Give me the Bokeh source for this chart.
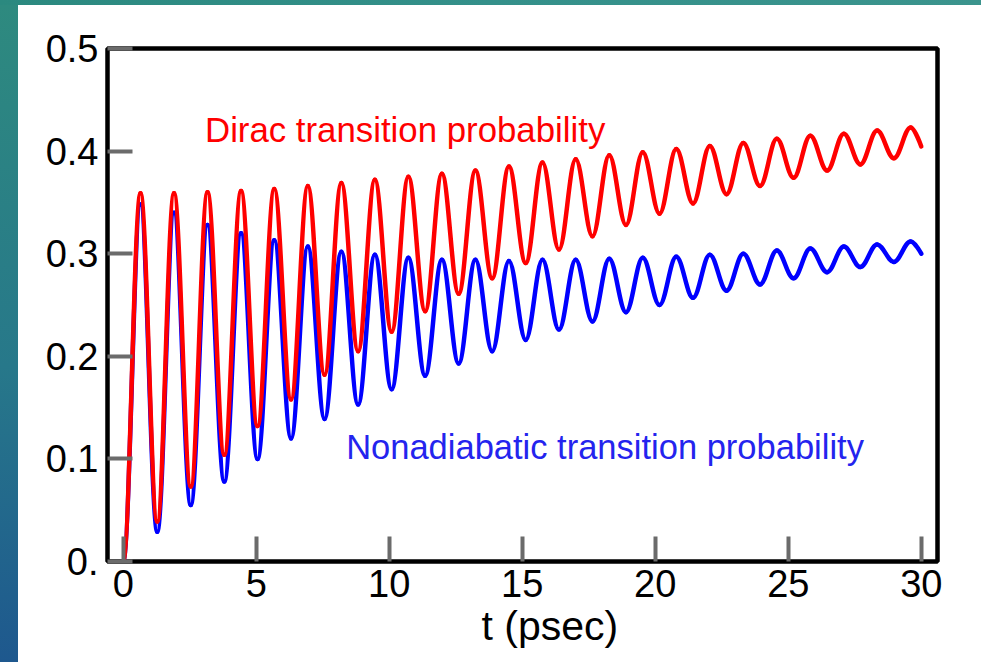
from math import pi
from bokeh.plotting import figure
from bokeh.models import Range1d, FixedTicker, Label, Title, Div
from bokeh.layouts import row, column
from bokeh.embed import file_html
from bokeh.resources import INLINE

# ---- data (t in psec) ----
t_peaks = [0.65, 1.91, 3.17, 4.43, 5.68, 6.94, 8.20, 9.46, 10.72, 11.98, 13.24, 14.50,
           15.76, 17.01, 18.27, 19.53, 20.79, 22.05, 23.31, 24.57, 25.83, 27.09, 28.34, 29.60]
t_troughs = [1.28, 2.54, 3.80, 5.05, 6.31, 7.57, 8.83, 10.09, 11.35, 12.61, 13.87, 15.13,
             16.38, 17.64, 18.90, 20.16, 21.42, 22.68, 23.94, 25.20, 26.46, 27.71, 28.97]
t_start = 0.0
t_end = 30.0

dirac_peaks = [0.359, 0.359, 0.360, 0.361, 0.363, 0.366, 0.369, 0.372, 0.375, 0.378, 0.381, 0.385,
               0.389, 0.392, 0.396, 0.399, 0.402, 0.405, 0.408, 0.412, 0.415, 0.417, 0.420, 0.423]
dirac_troughs = [0.039, 0.073, 0.104, 0.132, 0.158, 0.182, 0.205, 0.224, 0.244, 0.261, 0.276, 0.291,
                 0.304, 0.317, 0.328, 0.339, 0.349, 0.358, 0.366, 0.374, 0.381, 0.387, 0.393]
dirac_start = 0.0
dirac_end = 0.4045

nonadiabatic_peaks = [0.348, 0.340, 0.328, 0.320, 0.313, 0.307, 0.302, 0.299, 0.296, 0.294, 0.294, 0.293,
                      0.294, 0.294, 0.295, 0.296, 0.297, 0.299, 0.300, 0.303, 0.305, 0.307, 0.309, 0.312]
nonadiabatic_troughs = [0.029, 0.055, 0.078, 0.100, 0.120, 0.139, 0.153, 0.168, 0.181, 0.193, 0.205, 0.216,
                        0.226, 0.234, 0.243, 0.250, 0.257, 0.264, 0.270, 0.276, 0.282, 0.287, 0.292]
nonadiabatic_start = 0.0
nonadiabatic_end = 0.300

x_ticks = [0, 5, 10, 15, 20, 25, 30]
y_ticks = [0.0, 0.1, 0.2, 0.3, 0.4, 0.5]
y_tick_labels = ["0.", "0.1", "0.2", "0.3", "0.4", "0.5"]
x_axis_label = "t (psec)"
dirac_label = "Dirac transition probability"
nonadiabatic_label = "Nonadiabatic transition probability"

FONT = "Liberation Sans"


def extrema_sequence(start, peaks, troughs, end):
    ts, vs = [t_start], [start]
    for i in range(len(peaks)):
        ts.append(t_peaks[i]); vs.append(peaks[i])
        if i < len(troughs):
            ts.append(t_troughs[i]); vs.append(troughs[i])
    ts.append(t_end); vs.append(end)
    return ts, vs


def bezier_segments(ts, vs):
    k = 1 - 2 / pi  # smooth, horizontal tangents at the extrema
    x0, x1 = ts[:-1], ts[1:]
    y0, y1 = vs[:-1], vs[1:]
    cx0 = [a + k * (b - a) for a, b in zip(x0, x1)]
    cy0 = list(y0)
    cx1 = [b - k * (b - a) for a, b in zip(x0, x1)]
    cy1 = list(y1)
    cx1[-1] = x1[-1]
    cy1[-1] = y1[-1]
    return dict(x0=x0, y0=y0, x1=x1, y1=y1, cx0=cx0, cy0=cy0, cx1=cx1, cy1=cy1)


p = figure(width=963, height=657, output_backend="svg", toolbar_location=None,
           x_range=Range1d(-0.59, 30.61), y_range=Range1d(0, 0.5),
           min_border_left=89, min_border_right=44, min_border_top=43, min_border_bottom=101)
p.background_fill_color = "white"
p.border_fill_color = "white"
p.outline_line_color = "black"
p.outline_line_width = 4.5
p.xgrid.visible = False
p.ygrid.visible = False

for ax in (p.xaxis[0], p.yaxis[0]):
    ax.axis_line_color = None
    ax.major_tick_in = 25
    ax.major_tick_out = 0
    ax.major_tick_line_color = "#6b6b6b"
    ax.major_tick_line_width = 4
    ax.minor_tick_line_color = None
    ax.major_label_text_font = FONT
    ax.major_label_text_font_size = "38px"
    ax.major_label_text_color = "black"

p.xaxis[0].ticker = FixedTicker(ticks=x_ticks)
p.xaxis[0].major_label_standoff = 8
p.yaxis[0].ticker = FixedTicker(ticks=y_ticks)
p.yaxis[0].major_label_overrides = {v: s for v, s in zip(y_ticks, y_tick_labels)}
p.yaxis[0].major_label_standoff = 9

seg_n = bezier_segments(*extrema_sequence(nonadiabatic_start, nonadiabatic_peaks, nonadiabatic_troughs, nonadiabatic_end))
seg_d = bezier_segments(*extrema_sequence(dirac_start, dirac_peaks, dirac_troughs, dirac_end))

p.bezier(source=seg_n, x0="x0", y0="y0", x1="x1", y1="y1", cx0="cx0", cy0="cy0", cx1="cx1", cy1="cy1",
         line_color="#0000ff", line_width=4.5, line_cap="round")
p.bezier(source=seg_d, x0="x0", y0="y0", x1="x1", y1="y1", cx0="cx0", cy0="cy0", cx1="cx1", cy1="cy1",
         line_color="#ff0000", line_width=4.5, line_cap="round")

p.add_layout(Label(x=3.075, y=0.4206, text=dirac_label, text_font=FONT, text_font_size="34.8px",
                   text_color="#ff0000", text_align="left", text_baseline="alphabetic"))
p.add_layout(Label(x=8.38, y=0.1116, text=nonadiabatic_label, text_font=FONT, text_font_size="34.5px",
                   text_color="#2424ee", text_align="left", text_baseline="alphabetic"))

x_title = Title(text=x_axis_label, align="left", offset=374, standoff=3,
                text_font=FONT, text_font_size="41px", text_font_style="normal", text_color="black")
p.add_layout(x_title, "below")

# slide background strips around the chart
top_strip = Div(text="", width=981, height=5, margin=0,
                styles={"background": "linear-gradient(90deg, #2b897f, #34908a 50%, #3b948d)"})
left_strip = Div(text="", width=18, height=657, margin=0,
                 styles={"background": "linear-gradient(180deg, #2e8a7f, #27788a 55%, #1e588e)"})

layout = column(top_strip, row(left_strip, p, spacing=0), spacing=0)

open("out.html", "w").write(file_html(layout, INLINE))
